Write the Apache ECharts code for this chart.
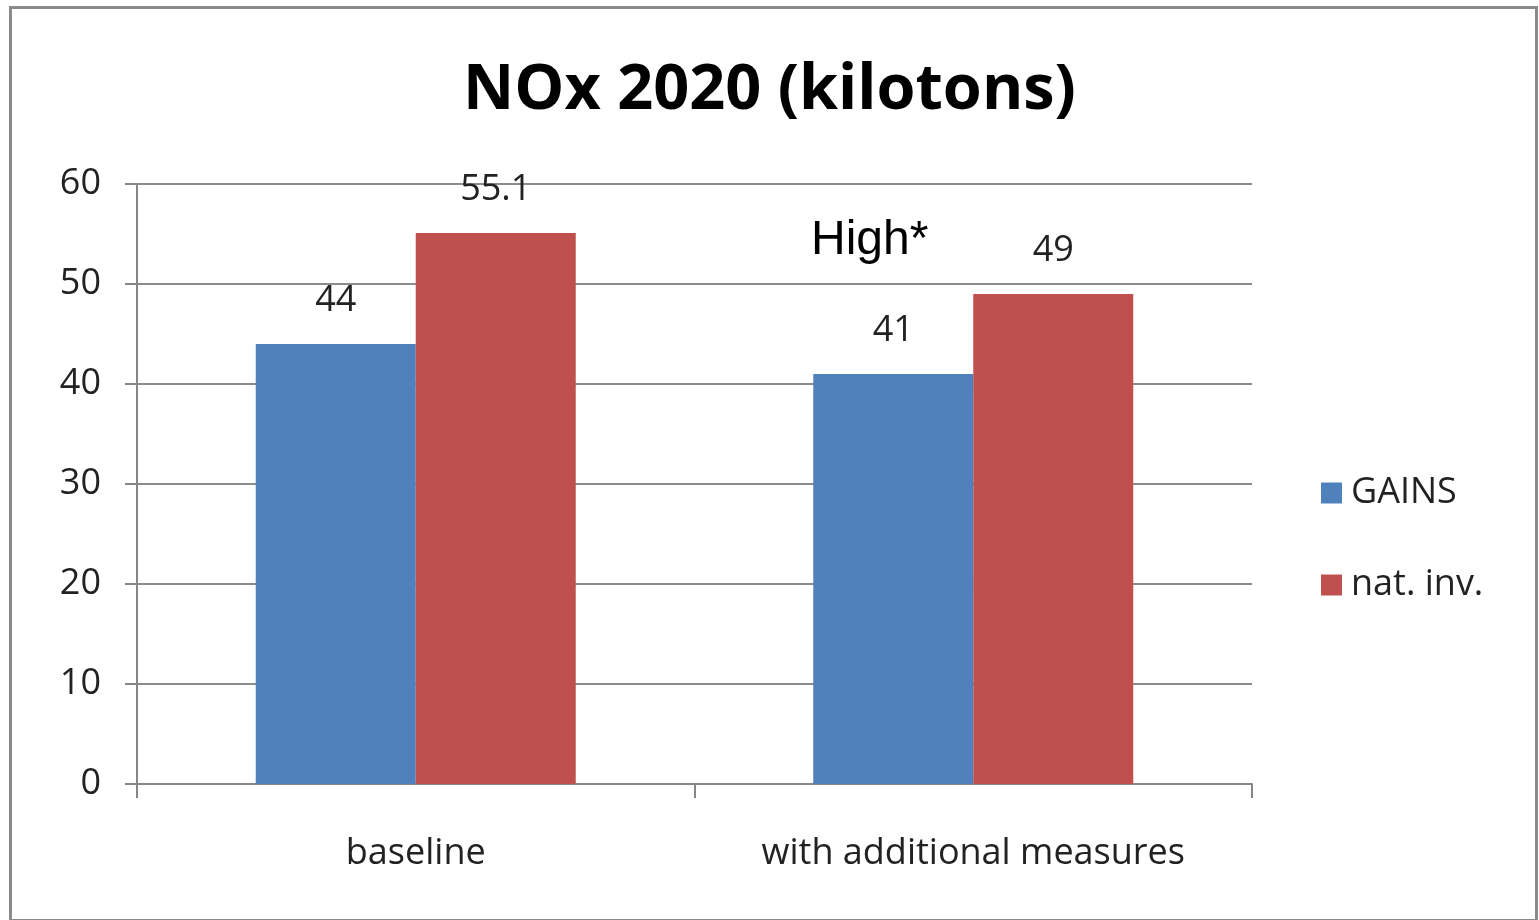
<!DOCTYPE html>
<html><head><meta charset="utf-8">
<script src="https://cdn.jsdelivr.net/npm/echarts@6/dist/echarts.min.js"></script>
<style>html,body{margin:0;padding:0;background:#fff}#c{width:1539px;height:920px}</style>
</head><body><div id="c"></div>
<script>
const categories = ['baseline', 'with additional measures'];
const gainsValues = [44, 41];
const natInvValues = [55.1, 49];
const yTicks = [0, 10, 20, 30, 40, 50, 60];
const titleText = 'NOx 2020 (kilotons)';
const noteText = 'High*';

const font = '"Open Sans", "Noto Sans", sans-serif';
const chart = echarts.init(document.getElementById('c'), null, {renderer: 'canvas'});
chart.setOption({
  backgroundColor: '#fff',
  animation: false,
  title: {
    text: titleText, left: 'center', top: 55,
    textStyle: {fontFamily: font, fontWeight: 'bold', fontSize: 63, color: '#000'}
  },
  legend: {
    orient: 'vertical', left: 1316, top: 470,
    itemWidth: 21, itemHeight: 21, itemGap: 56,
    icon: 'rect',
    textStyle: {fontFamily: font, fontSize: 36, color: '#222', padding: [0,0,0,4]},
    data: ['GAINS', 'nat. inv.']
  },
  grid: {left: 137, right: 287, top: 184, bottom: 136, containLabel: false},
  xAxis: {
    type: 'category', data: categories,
    axisLine: {lineStyle: {color: '#868686', width: 2}},
    axisTick: {show: true, length: 14, lineStyle: {color: '#868686', width: 2}},
    axisLabel: {fontFamily: font, fontSize: 36, color: '#222', margin: 52}
  },
  yAxis: {
    type: 'value', min: 0, max: 60, interval: 10,
    axisLine: {show: true, lineStyle: {color: '#868686', width: 2}},
    axisTick: {show: true, length: 12, lineStyle: {color: '#868686', width: 2}},
    axisLabel: {fontFamily: font, fontSize: 36, color: '#222', margin: 36,
      formatter: v => yTicks.includes(v) ? String(v) : ''},
    splitLine: {lineStyle: {color: '#8c8c8c', width: 2}}
  },
  series: [
    {name: 'GAINS', type: 'bar', data: gainsValues, barWidth: 160, barGap: '0%',
      itemStyle: {color: '#4F81BD'},
      label: {show: true, position: 'top', distance: 25, fontFamily: font, fontSize: 36, color: '#222'}},
    {name: 'nat. inv.', type: 'bar', data: natInvValues, barWidth: 160,
      itemStyle: {color: '#C0504D'},
      label: {show: true, position: 'top', distance: 25, fontFamily: font, fontSize: 36, color: '#222'}}
  ],
  graphic: [
    {type: 'rect', left: 8, top: 5, shape: {width: 1526, height: 913},
      style: {fill: 'none', stroke: '#8a8a8a', lineWidth: 3}, silent: true},
    {type: 'text', left: 811, top: 217,
      style: {text: noteText, font: '48px "Liberation Sans", Arial, sans-serif', fill: '#000'}}
  ]
});
</script></body></html>
